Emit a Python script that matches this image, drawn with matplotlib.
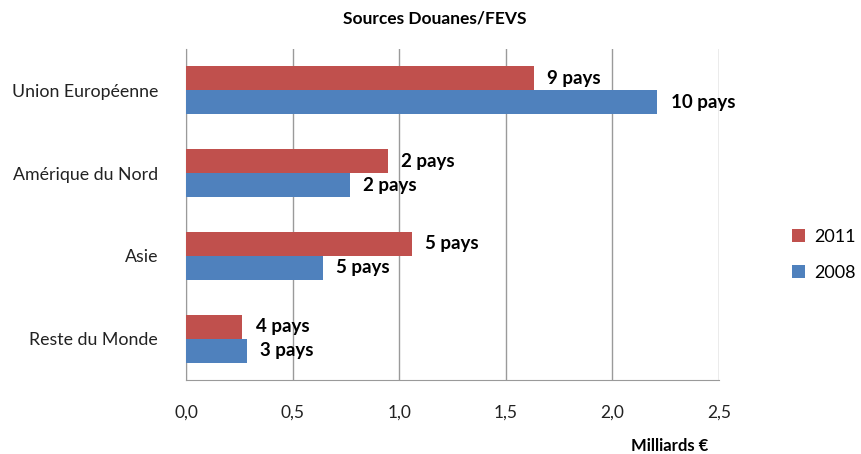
import matplotlib
matplotlib.use("Agg")
import matplotlib.pyplot as plt
import numpy as np

categories = ["Union Européenne", "Amérique du Nord", "Asie", "Reste du Monde"]
series_names = ["2011", "2008"]
values_2011 = [1.63, 0.946, 1.058, 0.265]
values_2008 = [2.211, 0.767, 0.643, 0.285]
labels_2011 = ["9 pays", "2 pays", "5 pays", "4 pays"]
labels_2008 = ["10 pays", "2 pays", "5 pays", "3 pays"]
xticks = [0.0, 0.5, 1.0, 1.5, 2.0, 2.5]
xtick_labels = ["0,0", "0,5", "1,0", "1,5", "2,0", "2,5"]

red = "#C0504D"
blue = "#4F81BD"
plt.rcParams['font.family'] = ['Lato', 'DejaVu Sans']

W, H = 861, 454
fig = plt.figure(figsize=(W/100, H/100), dpi=100)
ax = fig.add_axes([186/W, 1-380/H, (719-186)/W, (380-49)/H])

n = len(categories)
y = np.arange(n)
bh = 0.29
ax.barh(y - bh/2, values_2011, height=bh, color=red, label=series_names[0], zorder=3)
ax.barh(y + bh/2, values_2008, height=bh, color=blue, label=series_names[1], zorder=3)

for i in range(n):
    ax.annotate(labels_2011[i], (values_2011[i], y[i] - bh/2), xytext=(9.5, 0),
                textcoords="offset points", va="center", ha="left",
                fontsize=13.5, fontweight="bold", color="black")
    ax.annotate(labels_2008[i], (values_2008[i], y[i] + bh/2), xytext=(9.5, 0),
                textcoords="offset points", va="center", ha="left",
                fontsize=13.5, fontweight="bold", color="black")

ax.set_ylim(n - 0.5, -0.5)
ax.set_xlim(0, 2.5)
ax.set_yticks(y)
ax.set_yticklabels(categories, fontsize=12.8, color="#222222")
ax.set_xticks(xticks)
ax.set_xticklabels(xtick_labels, fontsize=12.5, color="#222222")
ax.tick_params(axis="y", length=0, pad=20)
ax.tick_params(axis="x", length=0, pad=18)
ax.grid(axis="x", color="#9a9a9a", linewidth=1, zorder=0)
for s in ["top", "right"]:
    ax.spines[s].set_visible(False)
ax.spines["left"].set_color("#9a9a9a")
ax.spines["bottom"].set_color("#9a9a9a")

fig.text(435/W, 1-19/H, "Sources Douanes/FEVS", ha="center", va="center",
         fontsize=12.5, fontweight="bold")
fig.text(670/W, 1-446/H, "Milliards €", ha="center", va="center",
         fontsize=12, fontweight="bold")

handles, labs = ax.get_legend_handles_labels()
leg = fig.legend(handles, labs, loc="center left", bbox_to_anchor=(776/W, 1-255/H),
                 frameon=False, fontsize=13, handlelength=0.7, handleheight=0.7,
                 labelspacing=1.1, handletextpad=0.5)

fig.savefig("out.png", dpi=100)
